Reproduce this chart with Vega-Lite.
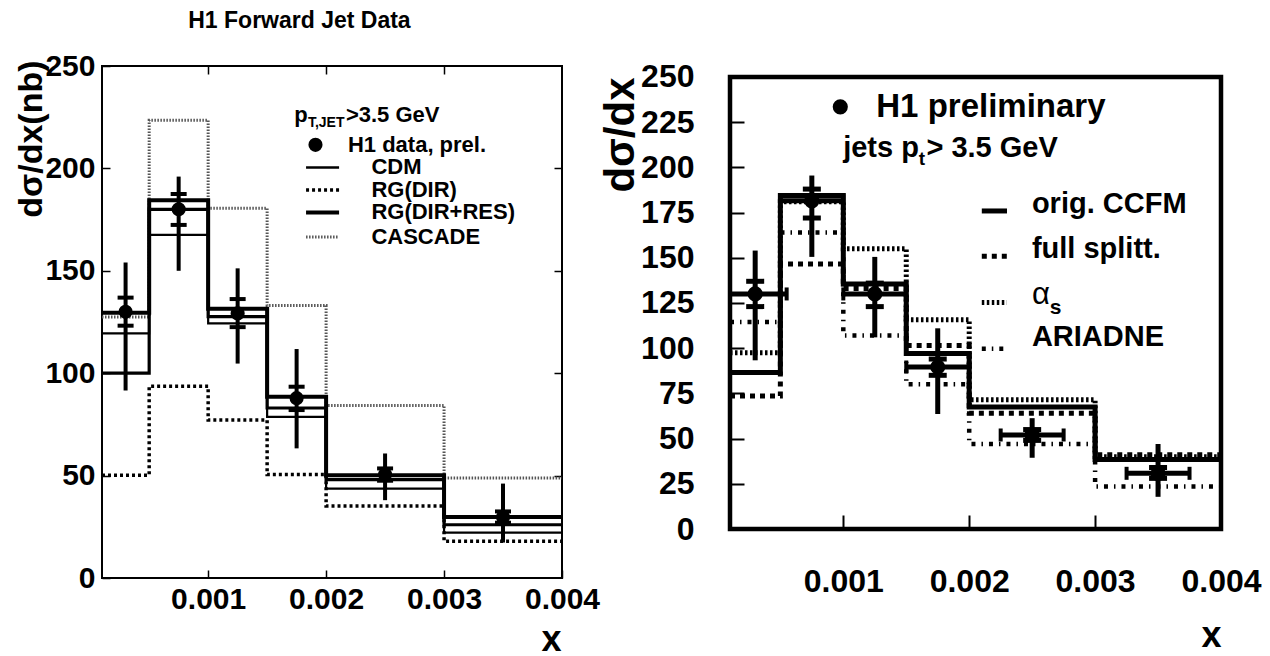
{
  "$schema": "https://vega.github.io/schema/vega-lite/v6.json",
  "padding": {"left": 14, "top": 9, "right": 0, "bottom": 0},
  "background": "white",
  "config": {
    "view": {"stroke": null},
    "font": "Liberation Sans",
    "tick": {"opacity": 1},
    "axis": {"grid": false, "domain": false, "labelColor": "black", "tickColor": "black", "titleColor": "black", "labelFontWeight": "bold", "titleFontWeight": "bold", "labelFlush": false, "labelOverlap": false, "labelFont": "Liberation Sans", "titleFont": "Liberation Sans"}
  },
  "datasets": {
    "one": [{}],
    "lhist": [
      {"m": "CDM", "x": 0.0001, "y": 119.4}, {"m": "CDM", "x": 0.0005, "y": 167.5}, {"m": "CDM", "x": 0.001, "y": 124.3}, {"m": "CDM", "x": 0.0015, "y": 78.7}, {"m": "CDM", "x": 0.002, "y": 43.6}, {"m": "CDM", "x": 0.003, "y": 22.2}, {"m": "CDM", "x": 0.004, "y": 22.2},
      {"m": "RG(DIR)", "x": 0.0001, "y": 50.2}, {"m": "RG(DIR)", "x": 0.0005, "y": 93.6}, {"m": "RG(DIR)", "x": 0.001, "y": 77.1}, {"m": "RG(DIR)", "x": 0.0015, "y": 50.5}, {"m": "RG(DIR)", "x": 0.002, "y": 35.2}, {"m": "RG(DIR)", "x": 0.003, "y": 17.9}, {"m": "RG(DIR)", "x": 0.004, "y": 17.9},
      {"m": "RG(DIR+RES)", "x": 0.0001, "y": 129.5}, {"m": "RG(DIR+RES)", "x": 0.0005, "y": 184.5}, {"m": "RG(DIR+RES)", "x": 0.001, "y": 131.5}, {"m": "RG(DIR+RES)", "x": 0.0015, "y": 88.5}, {"m": "RG(DIR+RES)", "x": 0.002, "y": 50.2}, {"m": "RG(DIR+RES)", "x": 0.003, "y": 29.8}, {"m": "RG(DIR+RES)", "x": 0.004, "y": 29.8},
      {"m": "RG(DIR+RES) low", "x": 0.0001, "y": 100}, {"m": "RG(DIR+RES) low", "x": 0.0005, "y": 180}, {"m": "RG(DIR+RES) low", "x": 0.001, "y": 127.6}, {"m": "RG(DIR+RES) low", "x": 0.0015, "y": 83}, {"m": "RG(DIR+RES) low", "x": 0.002, "y": 48}, {"m": "RG(DIR+RES) low", "x": 0.003, "y": 26}, {"m": "RG(DIR+RES) low", "x": 0.004, "y": 26},
      {"m": "CASCADE", "x": 0.0001, "y": 127.5}, {"m": "CASCADE", "x": 0.0005, "y": 223.5}, {"m": "CASCADE", "x": 0.001, "y": 180.5}, {"m": "CASCADE", "x": 0.0015, "y": 133}, {"m": "CASCADE", "x": 0.002, "y": 84.2}, {"m": "CASCADE", "x": 0.003, "y": 48.8}, {"m": "CASCADE", "x": 0.004, "y": 48.8}
    ],
    "lpts": [
      {"x": 0.0003, "y": 130, "lo": 91.5, "hi": 154, "slo": 123.2, "shi": 136.9},
      {"x": 0.00075, "y": 180, "lo": 150, "hi": 196, "slo": 172.4, "shi": 187.5},
      {"x": 0.00125, "y": 129.2, "lo": 104.7, "hi": 151.2, "slo": 122.5, "shi": 136.2},
      {"x": 0.00175, "y": 87.8, "lo": 63.3, "hi": 111.8, "slo": 82, "shi": 93.4},
      {"x": 0.0025, "y": 50.5, "lo": 38, "hi": 60.8, "slo": 47.5, "shi": 53.5},
      {"x": 0.0035, "y": 29.8, "lo": 17.3, "hi": 46.1, "slo": 27, "shi": 32.5}
    ],
    "rhist": [
      {"m": "orig. CCFM", "x": 0.0001, "y": 86.5}, {"m": "orig. CCFM", "x": 0.0005, "y": 184.5}, {"m": "orig. CCFM", "x": 0.001, "y": 135.5}, {"m": "orig. CCFM", "x": 0.0015, "y": 97}, {"m": "orig. CCFM", "x": 0.002, "y": 67.5}, {"m": "orig. CCFM", "x": 0.003, "y": 38.5}, {"m": "orig. CCFM", "x": 0.004, "y": 38.5},
      {"m": "full splitt.", "x": 0.0001, "y": 73.5}, {"m": "full splitt.", "x": 0.0005, "y": 146.5}, {"m": "full splitt.", "x": 0.001, "y": 133}, {"m": "full splitt.", "x": 0.0015, "y": 101.5}, {"m": "full splitt.", "x": 0.002, "y": 64}, {"m": "full splitt.", "x": 0.003, "y": 41}, {"m": "full splitt.", "x": 0.004, "y": 41},
      {"m": "αs", "x": 0.0001, "y": 97.5}, {"m": "αs", "x": 0.0005, "y": 181}, {"m": "αs", "x": 0.001, "y": 155}, {"m": "αs", "x": 0.0015, "y": 115.7}, {"m": "αs", "x": 0.002, "y": 71.5}, {"m": "αs", "x": 0.003, "y": 40}, {"m": "αs", "x": 0.004, "y": 40},
      {"m": "ARIADNE", "x": 0.0001, "y": 114.5}, {"m": "ARIADNE", "x": 0.0005, "y": 164}, {"m": "ARIADNE", "x": 0.001, "y": 107}, {"m": "ARIADNE", "x": 0.0015, "y": 80}, {"m": "ARIADNE", "x": 0.002, "y": 47}, {"m": "ARIADNE", "x": 0.003, "y": 23.5}, {"m": "ARIADNE", "x": 0.004, "y": 23.5}
    ],
    "rpts": [
      {"x": 0.0003, "y": 130, "lo": 93.3, "hi": 154, "slo": 123, "shi": 137, "xlo": 0.00005, "xhi": 0.00055},
      {"x": 0.00075, "y": 181.5, "lo": 150.5, "hi": 195.5, "slo": 172, "shi": 188, "xlo": 0.0005, "xhi": 0.001},
      {"x": 0.00125, "y": 130, "lo": 106, "hi": 150.5, "slo": 123, "shi": 136, "xlo": 0.001, "xhi": 0.0015},
      {"x": 0.00175, "y": 89.6, "lo": 63.6, "hi": 111, "slo": 85, "shi": 94, "xlo": 0.0015, "xhi": 0.002},
      {"x": 0.0025, "y": 52, "lo": 39.4, "hi": 61.3, "slo": 49, "shi": 55, "xlo": 0.00225, "xhi": 0.00275},
      {"x": 0.0035, "y": 30.8, "lo": 17.8, "hi": 47, "slo": 28, "shi": 34, "xlo": 0.00325, "xhi": 0.00375}
    ]
  },
  "spacing": 168,
  "bounds": "flush",
  "hconcat": [
    {
      "width": 460,
      "height": 512,
      "resolve": {"axis": {"x": "independent", "y": "independent"}},
      "layer": [
        {
          "data": {"name": "one"},
          "mark": {"type": "rect", "fillOpacity": 0, "stroke": "black", "strokeWidth": 2},
          "encoding": {
            "x": {"datum": 0.0001, "type": "quantitative", "scale": {"domain": [0.0001, 0.004], "nice": false, "zero": false},
              "axis": {"orient": "bottom", "values": [0.001, 0.002, 0.003, 0.004], "format": ".3f", "labelFontSize": 30, "tickSize": -8, "tickWidth": 1.5, "labelPadding": 14, "title": "x", "titleFontSize": 36, "titleX": 449, "titleY": 72, "titleAlign": "center", "titleBaseline": "alphabetic", "titleAngle": 0}},
            "x2": {"datum": 0.004},
            "y": {"datum": 0, "type": "quantitative", "scale": {"domain": [0, 250], "nice": false, "zero": false},
              "axis": {"orient": "left", "values": [0, 50, 100, 150, 200, 250], "labelFontSize": 30, "tickSize": -8, "tickWidth": 1.5, "labelPadding": 15, "title": "dσ/dx(nb)", "titleFontSize": 34, "titleAngle": 270, "titleAlign": "right", "titleBaseline": "alphabetic", "titleX": -61, "titleY": -6}},
            "y2": {"datum": 250}
          }
        },
        {
          "data": {"name": "one"},
          "mark": {"type": "point", "opacity": 0},
          "encoding": {
            "x": {"datum": 0.002, "type": "quantitative", "scale": {"domain": [0.0001, 0.004], "nice": false, "zero": false},
              "axis": {"orient": "top", "values": [0.001, 0.002, 0.003], "labels": false, "tickSize": -8, "tickWidth": 1.5, "title": null}},
            "y": {"datum": 100, "type": "quantitative", "scale": {"domain": [0, 250], "nice": false, "zero": false},
              "axis": {"orient": "right", "values": [50, 100, 150, 200], "labels": false, "tickSize": -8, "tickWidth": 1.5, "title": null}}
          }
        },
        {
          "data": {"name": "lhist"},
          "transform": [{"filter": "datum.m == 'CASCADE'"}],
          "mark": {"type": "line", "interpolate": "step-after", "clip": true, "color": "#555555", "strokeWidth": 3, "strokeDash": [1.5, 1.5]},
          "encoding": {
            "x": {"field": "x", "type": "quantitative", "scale": {"domain": [0.0001, 0.004], "nice": false, "zero": false}, "axis": null},
            "y": {"field": "y", "type": "quantitative", "scale": {"domain": [0, 250], "nice": false, "zero": false}, "axis": null}
          }
        },
        {
          "data": {"name": "lhist"},
          "transform": [{"filter": "datum.m == 'RG(DIR)'"}],
          "mark": {"type": "line", "interpolate": "step-after", "clip": true, "color": "black", "strokeWidth": 3.5, "strokeDash": [3, 3]},
          "encoding": {
            "x": {"field": "x", "type": "quantitative", "scale": {"domain": [0.0001, 0.004], "nice": false, "zero": false}, "axis": null},
            "y": {"field": "y", "type": "quantitative", "scale": {"domain": [0, 250], "nice": false, "zero": false}, "axis": null}
          }
        },
        {
          "data": {"name": "lhist"},
          "transform": [{"filter": "datum.m == 'CDM'"}],
          "mark": {"type": "line", "interpolate": "step-after", "clip": true, "color": "black", "strokeWidth": 2.2},
          "encoding": {
            "x": {"field": "x", "type": "quantitative", "scale": {"domain": [0.0001, 0.004], "nice": false, "zero": false}, "axis": null},
            "y": {"field": "y", "type": "quantitative", "scale": {"domain": [0, 250], "nice": false, "zero": false}, "axis": null}
          }
        },
        {
          "data": {"name": "lhist"},
          "transform": [{"filter": "datum.m == 'RG(DIR+RES) low'"}],
          "mark": {"type": "line", "interpolate": "step-after", "clip": true, "color": "black", "strokeWidth": 3.2},
          "encoding": {
            "x": {"field": "x", "type": "quantitative", "scale": {"domain": [0.0001, 0.004], "nice": false, "zero": false}, "axis": null},
            "y": {"field": "y", "type": "quantitative", "scale": {"domain": [0, 250], "nice": false, "zero": false}, "axis": null}
          }
        },
        {
          "data": {"name": "lhist"},
          "transform": [{"filter": "datum.m == 'RG(DIR+RES)'"}],
          "mark": {"type": "line", "interpolate": "step-after", "clip": true, "color": "black", "strokeWidth": 4},
          "encoding": {
            "x": {"field": "x", "type": "quantitative", "scale": {"domain": [0.0001, 0.004], "nice": false, "zero": false}, "axis": null},
            "y": {"field": "y", "type": "quantitative", "scale": {"domain": [0, 250], "nice": false, "zero": false}, "axis": null}
          }
        },
        {
          "data": {"name": "lpts"},
          "mark": {"type": "rule", "color": "black", "strokeWidth": 4},
          "encoding": {
            "x": {"field": "x", "type": "quantitative", "scale": {"domain": [0.0001, 0.004], "nice": false, "zero": false}, "axis": null},
            "y": {"field": "lo", "type": "quantitative", "scale": {"domain": [0, 250], "nice": false, "zero": false}, "axis": null},
            "y2": {"field": "hi"}
          }
        },
        {
          "data": {"name": "lpts"},
          "mark": {"type": "tick", "orient": "horizontal", "color": "black", "opacity": 1, "size": 16, "thickness": 4},
          "encoding": {
            "x": {"field": "x", "type": "quantitative", "scale": {"domain": [0.0001, 0.004], "nice": false, "zero": false}, "axis": null},
            "y": {"field": "slo", "type": "quantitative", "scale": {"domain": [0, 250], "nice": false, "zero": false}, "axis": null}
          }
        },
        {
          "data": {"name": "lpts"},
          "mark": {"type": "tick", "orient": "horizontal", "color": "black", "opacity": 1, "size": 16, "thickness": 4},
          "encoding": {
            "x": {"field": "x", "type": "quantitative", "scale": {"domain": [0.0001, 0.004], "nice": false, "zero": false}, "axis": null},
            "y": {"field": "shi", "type": "quantitative", "scale": {"domain": [0, 250], "nice": false, "zero": false}, "axis": null}
          }
        },
        {
          "data": {"name": "lpts"},
          "mark": {"type": "circle", "color": "black", "opacity": 1, "size": 200},
          "encoding": {
            "x": {"field": "x", "type": "quantitative", "scale": {"domain": [0.0001, 0.004], "nice": false, "zero": false}, "axis": null},
            "y": {"field": "y", "type": "quantitative", "scale": {"domain": [0, 250], "nice": false, "zero": false}, "axis": null}
          }
        },
        {
          "data": {"name": "one"},
          "mark": {"type": "text", "text": "H1 Forward Jet Data", "fontSize": 23, "fontWeight": "bold", "align": "center", "baseline": "alphabetic", "color": "black"},
          "encoding": {
            "x": {"datum": 0.001774, "type": "quantitative", "scale": {"domain": [0.0001, 0.004], "nice": false, "zero": false}, "axis": null},
            "y": {"datum": 268.6, "type": "quantitative", "scale": {"domain": [0, 250], "nice": false, "zero": false}, "axis": null}
          }
        },
        {
          "data": {"name": "one"},
          "mark": {"type": "text", "text": "p", "fontSize": 22, "fontWeight": "bold", "align": "left", "baseline": "alphabetic", "color": "black"},
          "encoding": {
            "x": {"datum": 0.001731, "type": "quantitative", "scale": {"domain": [0.0001, 0.004], "nice": false, "zero": false}, "axis": null},
            "y": {"datum": 222.6, "type": "quantitative", "scale": {"domain": [0, 250], "nice": false, "zero": false}, "axis": null}
          }
        },
        {
          "data": {"name": "one"},
          "mark": {"type": "text", "text": "T,JET", "fontSize": 14, "fontWeight": "bold", "align": "left", "baseline": "alphabetic", "dy": 5, "color": "black"},
          "encoding": {
            "x": {"datum": 0.001846, "type": "quantitative", "scale": {"domain": [0.0001, 0.004], "nice": false, "zero": false}, "axis": null},
            "y": {"datum": 222.6, "type": "quantitative", "scale": {"domain": [0, 250], "nice": false, "zero": false}, "axis": null}
          }
        },
        {
          "data": {"name": "one"},
          "mark": {"type": "text", "text": ">3.5 GeV", "fontSize": 22, "fontWeight": "bold", "align": "left", "baseline": "alphabetic", "color": "black"},
          "encoding": {
            "x": {"datum": 0.002168, "type": "quantitative", "scale": {"domain": [0.0001, 0.004], "nice": false, "zero": false}, "axis": null},
            "y": {"datum": 222.6, "type": "quantitative", "scale": {"domain": [0, 250], "nice": false, "zero": false}, "axis": null}
          }
        },
        {
          "data": {"name": "one"},
          "mark": {"type": "circle", "color": "black", "opacity": 1, "size": 200},
          "encoding": {
            "x": {"datum": 0.00191, "type": "quantitative", "scale": {"domain": [0.0001, 0.004], "nice": false, "zero": false}, "axis": null},
            "y": {"datum": 211.5, "type": "quantitative", "scale": {"domain": [0, 250], "nice": false, "zero": false}, "axis": null}
          }
        },
        {
          "data": {"name": "one"},
          "mark": {"type": "text", "text": "H1 data, prel.", "fontSize": 22, "fontWeight": "bold", "align": "left", "baseline": "middle", "color": "black"},
          "encoding": {
            "x": {"datum": 0.002185, "type": "quantitative", "scale": {"domain": [0.0001, 0.004], "nice": false, "zero": false}, "axis": null},
            "y": {"datum": 211.5, "type": "quantitative", "scale": {"domain": [0, 250], "nice": false, "zero": false}, "axis": null}
          }
        },
        {
          "data": {"name": "one"},
          "mark": {"type": "rule", "color": "black", "strokeWidth": 2.5},
          "encoding": {
            "x": {"datum": 0.00183, "type": "quantitative", "scale": {"domain": [0.0001, 0.004], "nice": false, "zero": false}, "axis": null},
            "x2": {"datum": 0.00211},
            "y": {"datum": 200.5, "type": "quantitative", "scale": {"domain": [0, 250], "nice": false, "zero": false}, "axis": null}
          }
        },
        {
          "data": {"name": "one"},
          "mark": {"type": "text", "text": "CDM", "fontSize": 22, "fontWeight": "bold", "align": "left", "baseline": "middle", "color": "black"},
          "encoding": {
            "x": {"datum": 0.002384, "type": "quantitative", "scale": {"domain": [0.0001, 0.004], "nice": false, "zero": false}, "axis": null},
            "y": {"datum": 200.5, "type": "quantitative", "scale": {"domain": [0, 250], "nice": false, "zero": false}, "axis": null}
          }
        },
        {
          "data": {"name": "one"},
          "mark": {"type": "rule", "color": "black", "strokeWidth": 3.5, "strokeDash": [3, 3]},
          "encoding": {
            "x": {"datum": 0.00183, "type": "quantitative", "scale": {"domain": [0.0001, 0.004], "nice": false, "zero": false}, "axis": null},
            "x2": {"datum": 0.00211},
            "y": {"datum": 189.5, "type": "quantitative", "scale": {"domain": [0, 250], "nice": false, "zero": false}, "axis": null}
          }
        },
        {
          "data": {"name": "one"},
          "mark": {"type": "text", "text": "RG(DIR)", "fontSize": 22, "fontWeight": "bold", "align": "left", "baseline": "middle", "color": "black"},
          "encoding": {
            "x": {"datum": 0.002384, "type": "quantitative", "scale": {"domain": [0.0001, 0.004], "nice": false, "zero": false}, "axis": null},
            "y": {"datum": 189.5, "type": "quantitative", "scale": {"domain": [0, 250], "nice": false, "zero": false}, "axis": null}
          }
        },
        {
          "data": {"name": "one"},
          "mark": {"type": "rule", "color": "black", "strokeWidth": 4},
          "encoding": {
            "x": {"datum": 0.00183, "type": "quantitative", "scale": {"domain": [0.0001, 0.004], "nice": false, "zero": false}, "axis": null},
            "x2": {"datum": 0.00211},
            "y": {"datum": 178.5, "type": "quantitative", "scale": {"domain": [0, 250], "nice": false, "zero": false}, "axis": null}
          }
        },
        {
          "data": {"name": "one"},
          "mark": {"type": "text", "text": "RG(DIR+RES)", "fontSize": 22, "fontWeight": "bold", "align": "left", "baseline": "middle", "color": "black"},
          "encoding": {
            "x": {"datum": 0.002384, "type": "quantitative", "scale": {"domain": [0.0001, 0.004], "nice": false, "zero": false}, "axis": null},
            "y": {"datum": 178.5, "type": "quantitative", "scale": {"domain": [0, 250], "nice": false, "zero": false}, "axis": null}
          }
        },
        {
          "data": {"name": "one"},
          "mark": {"type": "rule", "color": "#555555", "strokeWidth": 3, "strokeDash": [1.5, 1.5]},
          "encoding": {
            "x": {"datum": 0.00183, "type": "quantitative", "scale": {"domain": [0.0001, 0.004], "nice": false, "zero": false}, "axis": null},
            "x2": {"datum": 0.00211},
            "y": {"datum": 166.5, "type": "quantitative", "scale": {"domain": [0, 250], "nice": false, "zero": false}, "axis": null}
          }
        },
        {
          "data": {"name": "one"},
          "mark": {"type": "text", "text": "CASCADE", "fontSize": 22, "fontWeight": "bold", "align": "left", "baseline": "middle", "color": "black"},
          "encoding": {
            "x": {"datum": 0.002384, "type": "quantitative", "scale": {"domain": [0.0001, 0.004], "nice": false, "zero": false}, "axis": null},
            "y": {"datum": 166.5, "type": "quantitative", "scale": {"domain": [0, 250], "nice": false, "zero": false}, "axis": null}
          }
        }
      ]
    },
    {
      "width": 491,
      "height": 463,
      "resolve": {"axis": {"x": "independent", "y": "independent"}},
      "layer": [
        {
          "data": {"name": "one"},
          "mark": {"type": "rect", "fillOpacity": 0, "stroke": "black", "strokeWidth": 4.5},
          "encoding": {
            "x": {"datum": 0.0001, "type": "quantitative", "scale": {"domain": [0.0001, 0.004], "nice": false, "zero": false},
              "axis": {"orient": "bottom", "values": [0.001, 0.002, 0.003, 0.004], "format": ".3f", "labelFontSize": 32, "tickSize": -14, "tickWidth": 2, "labelPadding": 51, "title": "x", "titleFontSize": 36, "titleX": 481, "titleY": 117, "titleAlign": "center", "titleBaseline": "alphabetic", "titleAngle": 0}},
            "x2": {"datum": 0.004},
            "y": {"datum": 0, "type": "quantitative", "scale": {"domain": [0, 256.08], "nice": false, "zero": false},
              "axis": {"orient": "left", "values": [0, 25, 50, 75, 100, 125, 150, 175, 200, 225, 250], "labelFontSize": 32, "tickSize": -14, "tickWidth": 2, "labelPadding": 50, "title": "dσ/dx", "titleFontSize": 42, "titleAngle": 270, "titleAlign": "right", "titleBaseline": "alphabetic", "titleX": -97, "titleY": 11}},
            "y2": {"datum": 250}
          }
        },
        {
          "data": {"name": "rhist"},
          "transform": [{"filter": "datum.m == 'ARIADNE'"}],
          "mark": {"type": "line", "interpolate": "step-after", "clip": true, "color": "black", "strokeWidth": 4.5, "strokeDash": [4, 6, 1.5, 6]},
          "encoding": {
            "x": {"field": "x", "type": "quantitative", "scale": {"domain": [0.0001, 0.004], "nice": false, "zero": false}, "axis": null},
            "y": {"field": "y", "type": "quantitative", "scale": {"domain": [0, 256.08], "nice": false, "zero": false}, "axis": null}
          }
        },
        {
          "data": {"name": "rhist"},
          "transform": [{"filter": "datum.m == 'αs'"}],
          "mark": {"type": "line", "interpolate": "step-after", "clip": true, "color": "black", "strokeWidth": 5, "strokeDash": [2.5, 2.5]},
          "encoding": {
            "x": {"field": "x", "type": "quantitative", "scale": {"domain": [0.0001, 0.004], "nice": false, "zero": false}, "axis": null},
            "y": {"field": "y", "type": "quantitative", "scale": {"domain": [0, 256.08], "nice": false, "zero": false}, "axis": null}
          }
        },
        {
          "data": {"name": "rhist"},
          "transform": [{"filter": "datum.m == 'full splitt.'"}],
          "mark": {"type": "line", "interpolate": "step-after", "clip": true, "color": "black", "strokeWidth": 5, "strokeDash": [5, 5]},
          "encoding": {
            "x": {"field": "x", "type": "quantitative", "scale": {"domain": [0.0001, 0.004], "nice": false, "zero": false}, "axis": null},
            "y": {"field": "y", "type": "quantitative", "scale": {"domain": [0, 256.08], "nice": false, "zero": false}, "axis": null}
          }
        },
        {
          "data": {"name": "rhist"},
          "transform": [{"filter": "datum.m == 'orig. CCFM'"}],
          "mark": {"type": "line", "interpolate": "step-after", "clip": true, "color": "black", "strokeWidth": 5},
          "encoding": {
            "x": {"field": "x", "type": "quantitative", "scale": {"domain": [0.0001, 0.004], "nice": false, "zero": false}, "axis": null},
            "y": {"field": "y", "type": "quantitative", "scale": {"domain": [0, 256.08], "nice": false, "zero": false}, "axis": null}
          }
        },
        {
          "data": {"name": "rpts"},
          "mark": {"type": "rule", "color": "black", "strokeWidth": 5},
          "encoding": {
            "x": {"field": "x", "type": "quantitative", "scale": {"domain": [0.0001, 0.004], "nice": false, "zero": false}, "axis": null},
            "y": {"field": "lo", "type": "quantitative", "scale": {"domain": [0, 256.08], "nice": false, "zero": false}, "axis": null},
            "y2": {"field": "hi"}
          }
        },
        {
          "data": {"name": "rpts"},
          "mark": {"type": "rule", "color": "black", "strokeWidth": 5, "clip": true},
          "encoding": {
            "x": {"field": "xlo", "type": "quantitative", "scale": {"domain": [0.0001, 0.004], "nice": false, "zero": false}, "axis": null},
            "x2": {"field": "xhi"},
            "y": {"field": "y", "type": "quantitative", "scale": {"domain": [0, 256.08], "nice": false, "zero": false}, "axis": null}
          }
        },
        {
          "data": {"name": "rpts"},
          "mark": {"type": "tick", "orient": "vertical", "color": "black", "opacity": 1, "size": 13, "thickness": 4, "clip": true},
          "encoding": {
            "x": {"field": "xlo", "type": "quantitative", "scale": {"domain": [0.0001, 0.004], "nice": false, "zero": false}, "axis": null},
            "y": {"field": "y", "type": "quantitative", "scale": {"domain": [0, 256.08], "nice": false, "zero": false}, "axis": null}
          }
        },
        {
          "data": {"name": "rpts"},
          "mark": {"type": "tick", "orient": "vertical", "color": "black", "opacity": 1, "size": 13, "thickness": 4, "clip": true},
          "encoding": {
            "x": {"field": "xhi", "type": "quantitative", "scale": {"domain": [0.0001, 0.004], "nice": false, "zero": false}, "axis": null},
            "y": {"field": "y", "type": "quantitative", "scale": {"domain": [0, 256.08], "nice": false, "zero": false}, "axis": null}
          }
        },
        {
          "data": {"name": "rpts"},
          "mark": {"type": "tick", "orient": "horizontal", "color": "black", "opacity": 1, "size": 18, "thickness": 5},
          "encoding": {
            "x": {"field": "x", "type": "quantitative", "scale": {"domain": [0.0001, 0.004], "nice": false, "zero": false}, "axis": null},
            "y": {"field": "slo", "type": "quantitative", "scale": {"domain": [0, 256.08], "nice": false, "zero": false}, "axis": null}
          }
        },
        {
          "data": {"name": "rpts"},
          "mark": {"type": "tick", "orient": "horizontal", "color": "black", "opacity": 1, "size": 18, "thickness": 5},
          "encoding": {
            "x": {"field": "x", "type": "quantitative", "scale": {"domain": [0.0001, 0.004], "nice": false, "zero": false}, "axis": null},
            "y": {"field": "shi", "type": "quantitative", "scale": {"domain": [0, 256.08], "nice": false, "zero": false}, "axis": null}
          }
        },
        {
          "data": {"name": "rpts"},
          "mark": {"type": "circle", "color": "black", "opacity": 1, "size": 230},
          "encoding": {
            "x": {"field": "x", "type": "quantitative", "scale": {"domain": [0.0001, 0.004], "nice": false, "zero": false}, "axis": null},
            "y": {"field": "y", "type": "quantitative", "scale": {"domain": [0, 256.08], "nice": false, "zero": false}, "axis": null}
          }
        },
        {
          "data": {"name": "one"},
          "mark": {"type": "circle", "color": "black", "opacity": 1, "size": 230},
          "encoding": {
            "x": {"datum": 0.000976, "type": "quantitative", "scale": {"domain": [0.0001, 0.004], "nice": false, "zero": false}, "axis": null},
            "y": {"datum": 233.5, "type": "quantitative", "scale": {"domain": [0, 256.08], "nice": false, "zero": false}, "axis": null}
          }
        },
        {
          "data": {"name": "one"},
          "mark": {"type": "text", "text": "H1 preliminary", "fontSize": 33, "fontWeight": "bold", "align": "left", "baseline": "alphabetic", "color": "black"},
          "encoding": {
            "x": {"datum": 0.001262, "type": "quantitative", "scale": {"domain": [0.0001, 0.004], "nice": false, "zero": false}, "axis": null},
            "y": {"datum": 227.9, "type": "quantitative", "scale": {"domain": [0, 256.08], "nice": false, "zero": false}, "axis": null}
          }
        },
        {
          "data": {"name": "one"},
          "mark": {"type": "text", "text": "jets p", "fontSize": 29, "fontWeight": "bold", "align": "left", "baseline": "alphabetic", "color": "black"},
          "encoding": {
            "x": {"datum": 0.000999, "type": "quantitative", "scale": {"domain": [0.0001, 0.004], "nice": false, "zero": false}, "axis": null},
            "y": {"datum": 205.8, "type": "quantitative", "scale": {"domain": [0, 256.08], "nice": false, "zero": false}, "axis": null}
          }
        },
        {
          "data": {"name": "one"},
          "mark": {"type": "text", "text": "t", "fontSize": 19, "fontWeight": "bold", "align": "left", "baseline": "alphabetic", "dy": 8, "color": "black"},
          "encoding": {
            "x": {"datum": 0.001599, "type": "quantitative", "scale": {"domain": [0.0001, 0.004], "nice": false, "zero": false}, "axis": null},
            "y": {"datum": 205.8, "type": "quantitative", "scale": {"domain": [0, 256.08], "nice": false, "zero": false}, "axis": null}
          }
        },
        {
          "data": {"name": "one"},
          "mark": {"type": "text", "text": "> 3.5 GeV", "fontSize": 29, "fontWeight": "bold", "align": "left", "baseline": "alphabetic", "color": "black"},
          "encoding": {
            "x": {"datum": 0.00166, "type": "quantitative", "scale": {"domain": [0.0001, 0.004], "nice": false, "zero": false}, "axis": null},
            "y": {"datum": 205.8, "type": "quantitative", "scale": {"domain": [0, 256.08], "nice": false, "zero": false}, "axis": null}
          }
        },
        {
          "data": {"name": "one"},
          "mark": {"type": "rule", "color": "black", "strokeWidth": 5},
          "encoding": {
            "x": {"datum": 0.0021, "type": "quantitative", "scale": {"domain": [0.0001, 0.004], "nice": false, "zero": false}, "axis": null},
            "x2": {"datum": 0.0023},
            "y": {"datum": 175.9, "type": "quantitative", "scale": {"domain": [0, 256.08], "nice": false, "zero": false}, "axis": null}
          }
        },
        {
          "data": {"name": "one"},
          "mark": {"type": "text", "text": "orig. CCFM", "fontSize": 29, "fontWeight": "bold", "align": "left", "baseline": "alphabetic", "color": "black"},
          "encoding": {
            "x": {"datum": 0.002498, "type": "quantitative", "scale": {"domain": [0.0001, 0.004], "nice": false, "zero": false}, "axis": null},
            "y": {"datum": 175, "type": "quantitative", "scale": {"domain": [0, 256.08], "nice": false, "zero": false}, "axis": null}
          }
        },
        {
          "data": {"name": "one"},
          "mark": {"type": "rule", "color": "black", "strokeWidth": 5, "strokeDash": [5, 5]},
          "encoding": {
            "x": {"datum": 0.0021, "type": "quantitative", "scale": {"domain": [0.0001, 0.004], "nice": false, "zero": false}, "axis": null},
            "x2": {"datum": 0.0023},
            "y": {"datum": 150.9, "type": "quantitative", "scale": {"domain": [0, 256.08], "nice": false, "zero": false}, "axis": null}
          }
        },
        {
          "data": {"name": "one"},
          "mark": {"type": "text", "text": "full splitt.", "fontSize": 29, "fontWeight": "bold", "align": "left", "baseline": "alphabetic", "color": "black"},
          "encoding": {
            "x": {"datum": 0.002498, "type": "quantitative", "scale": {"domain": [0.0001, 0.004], "nice": false, "zero": false}, "axis": null},
            "y": {"datum": 150, "type": "quantitative", "scale": {"domain": [0, 256.08], "nice": false, "zero": false}, "axis": null}
          }
        },
        {
          "data": {"name": "one"},
          "mark": {"type": "rule", "color": "black", "strokeWidth": 5, "strokeDash": [2.5, 2.5]},
          "encoding": {
            "x": {"datum": 0.0021, "type": "quantitative", "scale": {"domain": [0.0001, 0.004], "nice": false, "zero": false}, "axis": null},
            "x2": {"datum": 0.0023},
            "y": {"datum": 125.3, "type": "quantitative", "scale": {"domain": [0, 256.08], "nice": false, "zero": false}, "axis": null}
          }
        },
        {
          "data": {"name": "one"},
          "mark": {"type": "text", "text": "α", "fontSize": 31, "fontWeight": "normal", "align": "left", "baseline": "alphabetic", "color": "black"},
          "encoding": {
            "x": {"datum": 0.002498, "type": "quantitative", "scale": {"domain": [0.0001, 0.004], "nice": false, "zero": false}, "axis": null},
            "y": {"datum": 124.3, "type": "quantitative", "scale": {"domain": [0, 256.08], "nice": false, "zero": false}, "axis": null}
          }
        },
        {
          "data": {"name": "one"},
          "mark": {"type": "text", "text": "s", "fontSize": 21, "fontWeight": "bold", "align": "left", "baseline": "alphabetic", "dy": 10, "color": "black"},
          "encoding": {
            "x": {"datum": 0.00264, "type": "quantitative", "scale": {"domain": [0.0001, 0.004], "nice": false, "zero": false}, "axis": null},
            "y": {"datum": 124.3, "type": "quantitative", "scale": {"domain": [0, 256.08], "nice": false, "zero": false}, "axis": null}
          }
        },
        {
          "data": {"name": "one"},
          "mark": {"type": "rule", "color": "black", "strokeWidth": 4.5, "strokeDash": [4, 6, 1.5, 6]},
          "encoding": {
            "x": {"datum": 0.0021, "type": "quantitative", "scale": {"domain": [0.0001, 0.004], "nice": false, "zero": false}, "axis": null},
            "x2": {"datum": 0.0023},
            "y": {"datum": 99.7, "type": "quantitative", "scale": {"domain": [0, 256.08], "nice": false, "zero": false}, "axis": null}
          }
        },
        {
          "data": {"name": "one"},
          "mark": {"type": "text", "text": "ARIADNE", "fontSize": 29, "fontWeight": "bold", "align": "left", "baseline": "alphabetic", "color": "black"},
          "encoding": {
            "x": {"datum": 0.002498, "type": "quantitative", "scale": {"domain": [0.0001, 0.004], "nice": false, "zero": false}, "axis": null},
            "y": {"datum": 101, "type": "quantitative", "scale": {"domain": [0, 256.08], "nice": false, "zero": false}, "axis": null}
          }
        }
      ]
    }
  ]
}
